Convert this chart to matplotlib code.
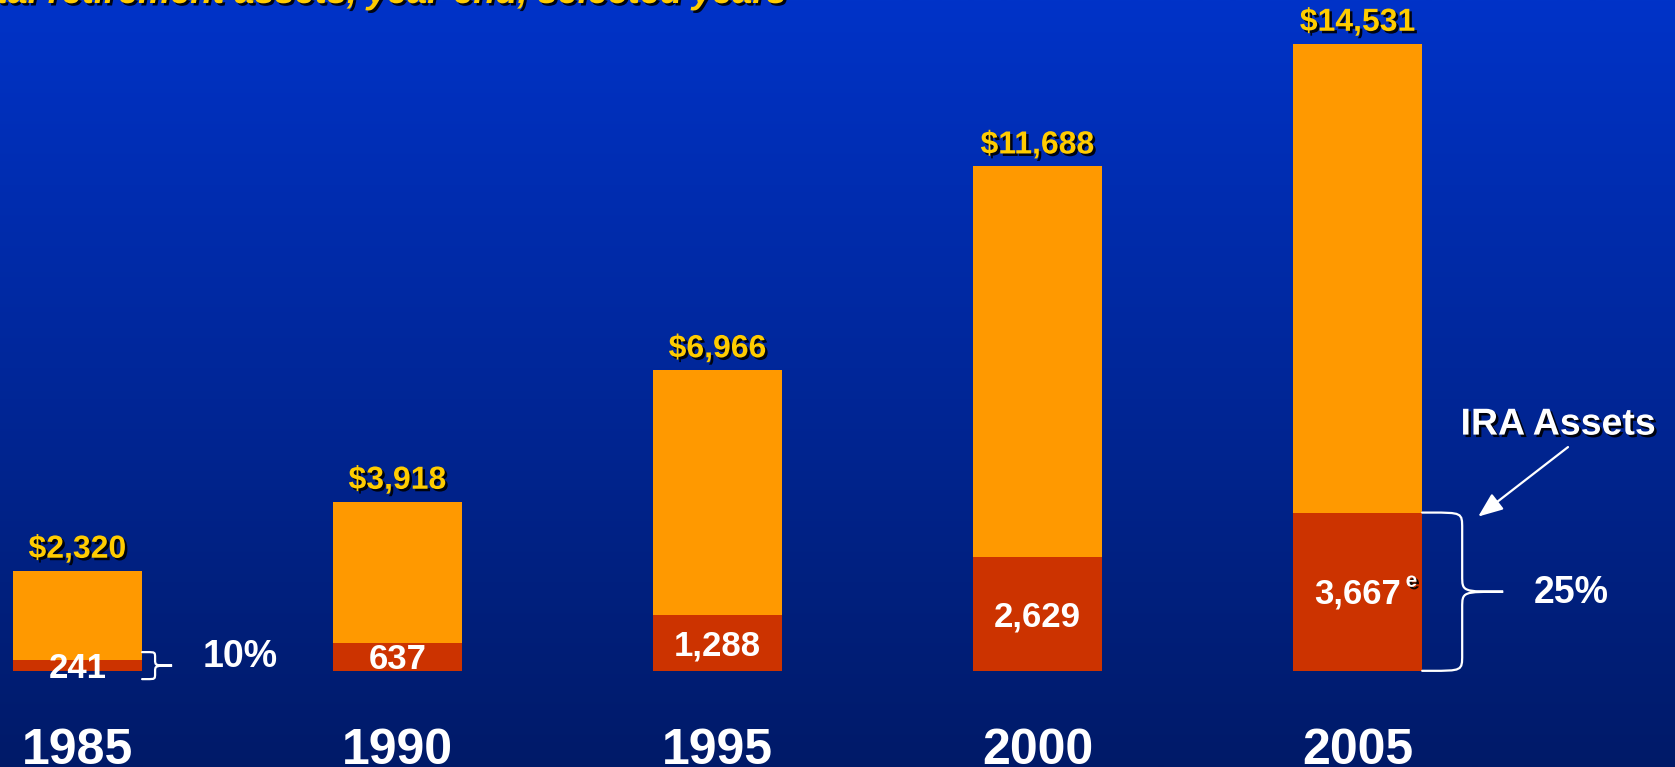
import numpy as np
import matplotlib
matplotlib.use("Agg")
import matplotlib.pyplot as plt
from matplotlib.path import Path
from matplotlib.patches import PathPatch
import matplotlib.patheffects as pe

# ---- data -------------------------------------------------------------
years = ["1985", "1990", "1995", "2000", "2005"]
total_assets = [2320, 3918, 6966, 11688, 14531]
ira_assets = [241, 637, 1288, 2629, 3667]
total_labels = ["$2,320", "$3,918", "$6,966", "$11,688", "$14,531"]
ira_labels = ["241", "637", "1,288", "2,629", "3,667"]
share_idx = [0, 4]
share_labels = ["10%", "25%"]
title = "U.S. total retirement assets, year-end, selected years"

# ---- styling ------------------------------------------------------------
plt.rcParams["font.family"] = ["Liberation Sans", "DejaVu Sans"]
ORANGE = "#FF9900"
RED = "#CC3300"
YELLOW = "#FFCC00"
WHITE = "white"

W, H = 1675, 767
fig = plt.figure(figsize=(W / 100, H / 100), dpi=100)
ax = fig.add_axes([0, 0, 1, 1])
XLIM = (-0.242, 4.992)
YLIM = (-2229, 15546)
ax.set_xlim(*XLIM)
ax.set_ylim(*YLIM)
ax.axis("off")

# data units per pixel
ux = (XLIM[1] - XLIM[0]) / W
uy = (YLIM[1] - YLIM[0]) / H

# vertical blue gradient background
top = np.array([0, 51, 200]) / 255
bot = np.array([0, 26, 104]) / 255
t = np.linspace(0, 1, 256)[:, None]
grad = top[None, :] * (1 - t) + bot[None, :] * t
ax.imshow(grad[:, None, :], extent=[0, 1, 0, 1], transform=ax.transAxes,
          aspect="auto", zorder=0, interpolation="bilinear")

x = np.arange(len(years))
width = 0.404
other = np.array(total_assets) - np.array(ira_assets)
ax.bar(x, ira_assets, width=width, color=RED, zorder=2)
ax.bar(x, other, width=width, bottom=ira_assets, color=ORANGE, zorder=2)

shadow = [pe.withSimplePatchShadow(offset=(1.8, -1.8), shadow_rgbFace="black", alpha=0.9)]

for i in x:
    ax.annotate(total_labels[i], xy=(i, total_assets[i]), xytext=(0, 13),
                textcoords="offset pixels", ha="center", va="baseline",
                fontsize=23, fontweight="bold", color=YELLOW,
                path_effects=shadow, zorder=4)
    ax.annotate(ira_labels[i], xy=(i, ira_assets[i] / 2), xytext=(0, -12),
                textcoords="offset pixels", ha="center", va="baseline",
                fontsize=25, fontweight="bold", color=WHITE, zorder=4)
    ax.annotate(years[i], xy=(i, 0), xytext=(0, -93),
                textcoords="offset pixels", ha="center", va="baseline",
                fontsize=36, fontweight="bold", color=WHITE, zorder=4)

# estimate marker on the latest IRA figure
ax.annotate("e", xy=(4, ira_assets[4] / 2), xytext=(54, 5),
            textcoords="offset pixels", ha="center", va="baseline",
            fontsize=15, fontweight="bold", color=WHITE,
            path_effects=shadow, zorder=4)


def curly_brace(xl, ymid, half_h, arm, tip, rx, ry):
    """Right-facing brace starting at x=xl; sizes given in pixels."""
    xm = xl + arm * ux
    xt = xm + tip * ux
    yt = ymid + half_h * uy
    yb = ymid - half_h * uy
    rxd, ryd = rx * ux, ry * uy
    verts = [
        (xl, yt), (xm - rxd, yt),
        (xm, yt), (xm, yt), (xm, yt - ryd),
        (xm, ymid + ryd),
        (xm, ymid), (xm, ymid), (xt, ymid),
        (xm, ymid), (xm, ymid), (xm, ymid - ryd),
        (xm, yb + ryd),
        (xm, yb), (xm, yb), (xm - rxd, yb),
        (xl, yb),
    ]
    codes = [Path.MOVETO, Path.LINETO,
             Path.CURVE4, Path.CURVE4, Path.CURVE4,
             Path.LINETO,
             Path.CURVE4, Path.CURVE4, Path.CURVE4,
             Path.CURVE4, Path.CURVE4, Path.CURVE4,
             Path.LINETO,
             Path.CURVE4, Path.CURVE4, Path.CURVE4,
             Path.LINETO]
    ax.add_patch(PathPatch(Path(verts, codes), fill=False, edgecolor=WHITE,
                           lw=1.6, capstyle="round", zorder=3))
    return xt, ymid


# braces marking the IRA share in 1985 and 2005
brace_specs = [
    dict(half_h=13.5, arm=13, tip=17, rx=8, ry=6, dy=12),
    dict(half_h=None, arm=40, tip=41, rx=32, ry=16, dy=2),
]
for idx, lab, spec in zip(share_idx, share_labels, brace_specs):
    v = ira_assets[idx]
    half = spec["half_h"] if spec["half_h"] is not None else (v / 2) / uy
    xt, ym = curly_brace(idx + width / 2, v / 2, half, spec["arm"], spec["tip"],
                         spec["rx"], spec["ry"])
    ax.annotate(lab, xy=(xt, ym), xytext=(68, spec["dy"] - 13),
                textcoords="offset pixels", ha="center", va="baseline",
                fontsize=27, fontweight="bold", color=WHITE, zorder=4)

# IRA assets callout
tip_xy = (4 + width / 2 + 56 * ux, ira_assets[4] - 4 * uy)
ax.annotate("IRA Assets", xy=tip_xy, xytext=(80, 92),
            textcoords="offset pixels", ha="center", va="center",
            fontsize=27, fontweight="bold", color=WHITE,
            path_effects=shadow, zorder=4,
            arrowprops=dict(arrowstyle="-|>,head_length=0.75,head_width=0.3",
                            mutation_scale=20, color=WHITE, lw=1.6,
                            relpos=(0.58, 0.0), shrinkA=2, shrinkB=0))

# title line, sitting mostly above the canvas
fig.text(787 / W, 1 - 3 / H, title, ha="right", va="baseline",
         fontsize=26, fontweight="bold", fontstyle="italic", color=YELLOW,
         path_effects=shadow)

fig.savefig("out.png", dpi=100)
